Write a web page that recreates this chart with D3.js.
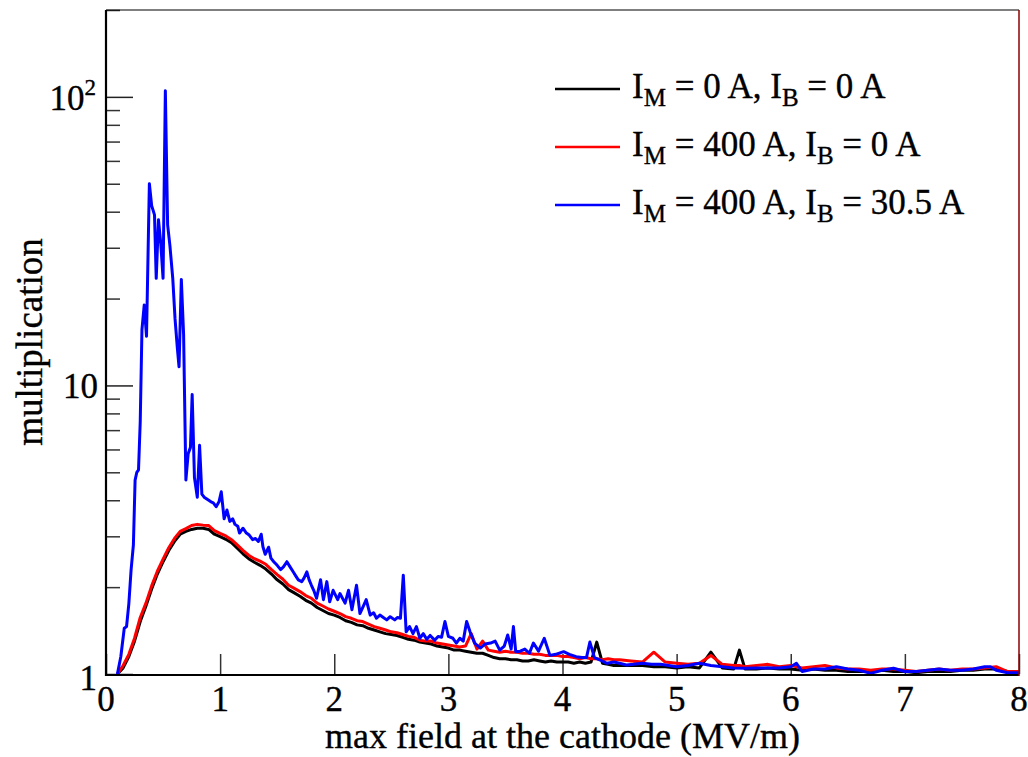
<!DOCTYPE html>
<html>
<head>
<meta charset="utf-8">
<script src="https://cdn.jsdelivr.net/npm/d3@7"></script>
<style>
  body { margin: 0; background: #fff; }
  text { font-family: "Liberation Serif", "Times New Roman", serif; fill: #000; stroke: #000; stroke-width: 0.35; }
</style>
</head>
<body>
<div id="chart"></div>
<script>
// x grid shared by the two smooth curves (MV/m)
const fieldX = [0.10,0.15,0.20,0.25,0.30,0.35,0.40,0.45,0.50,0.55,0.60,0.65,0.70,0.75,0.80,0.85,0.90,0.95,
  1.00,1.05,1.10,1.15,1.20,1.25,1.30,1.35,1.40,1.45,1.50,1.55,1.60,1.65,1.70,1.75,1.80,1.85,1.90,1.95,
  2.00,2.05,2.10,2.15,2.20,2.25,2.30,2.35,2.40,2.45,2.50,2.55,2.60,2.65,2.70,2.75,2.80,2.85,2.90,2.95,
  3.00,3.05,3.10,3.15,3.20,3.25,3.30,3.35,3.40,3.45,3.50,3.55,3.60,3.65,3.70,3.75,3.80,3.85,3.90,3.95,
  4.00,4.05,4.10,4.15,4.20,4.25,4.30,4.35,4.40,4.45,4.50,4.6,4.7,4.8,4.9,5.0,5.1,5.2,5.3,5.4,5.5,5.55,
  5.6,5.7,5.8,5.9,6.0,6.1,6.2,6.3,6.4,6.5,6.6,6.7,6.8,6.9,7.0,7.1,7.2,7.3,7.4,7.5,7.6,7.7,7.8,7.9,8.0];

// I_M = 0 A, I_B = 0 A
const multBlack = [1.00,1.05,1.15,1.30,1.52,1.72,1.97,2.22,2.45,2.68,2.88,3.05,3.12,3.17,3.20,3.20,3.17,3.05,
  2.99,2.93,2.85,2.73,2.61,2.51,2.44,2.38,2.31,2.22,2.12,2.05,1.96,1.91,1.86,1.80,1.76,1.70,1.66,1.62,
  1.60,1.57,1.53,1.51,1.48,1.47,1.44,1.42,1.40,1.38,1.37,1.36,1.34,1.32,1.31,1.29,1.28,1.27,1.25,1.24,
  1.23,1.21,1.21,1.20,1.19,1.18,1.18,1.16,1.14,1.13,1.13,1.12,1.12,1.11,1.11,1.12,1.11,1.10,1.11,1.10,
  1.10,1.10,1.09,1.10,1.09,1.10,1.29,1.09,1.08,1.07,1.07,1.07,1.07,1.06,1.06,1.05,1.06,1.05,1.19,1.05,1.04,1.21,
  1.04,1.04,1.05,1.04,1.04,1.03,1.04,1.03,1.03,1.02,1.02,1.02,1.03,1.02,1.02,1.01,1.02,1.02,1.02,1.03,1.03,1.04,1.04,1.02,1.02];

// I_M = 400 A, I_B = 0 A
const multRed = [1.00,1.07,1.17,1.33,1.57,1.76,2.02,2.27,2.50,2.74,2.95,3.12,3.19,3.27,3.30,3.28,3.27,3.14,
  3.07,3.01,2.92,2.80,2.68,2.58,2.51,2.46,2.40,2.30,2.21,2.13,2.03,1.98,1.93,1.87,1.83,1.76,1.72,1.68,
  1.65,1.62,1.58,1.56,1.53,1.52,1.49,1.46,1.44,1.42,1.40,1.39,1.37,1.35,1.34,1.31,1.30,1.30,1.28,1.27,
  1.26,1.25,1.24,1.25,1.38,1.22,1.30,1.21,1.20,1.19,1.20,1.19,1.19,1.18,1.18,1.17,1.17,1.16,1.16,1.16,
  1.15,1.15,1.14,1.13,1.14,1.13,1.13,1.12,1.13,1.12,1.12,1.11,1.10,1.19,1.10,1.09,1.08,1.09,1.16,1.08,1.07,1.07,
  1.06,1.07,1.08,1.06,1.07,1.05,1.06,1.07,1.05,1.04,1.04,1.03,1.04,1.04,1.03,1.02,1.03,1.04,1.03,1.04,1.04,1.05,1.06,1.02,1.02];

// I_M = 400 A, I_B = 30.5 A (own x grid, denser where it spikes)
const blueX = [0.10,0.13,0.16,0.18,0.20,0.22,0.24,0.255,0.27,0.285,0.30,0.315,0.335,0.355,0.38,0.40,0.425,0.44,
  0.46,0.48,0.50,0.52,0.54,0.56,0.585,0.605,0.625,0.64,0.66,0.68,0.70,0.72,0.74,0.755,0.775,0.80,0.82,0.84,
  0.86,0.88,0.90,0.92,0.94,0.965,0.99,1.01,1.035,1.06,1.085,1.11,1.13,1.155,1.17,1.20,1.23,1.255,1.285,1.31,
  1.335,1.36,1.375,1.395,1.425,1.445,1.47,1.50,1.53,1.555,1.585,1.61,1.64,1.665,1.685,1.715,1.735,1.76,1.78,
  1.80,1.82,1.845,1.88,1.905,1.935,1.96,1.99,2.03,2.05,2.095,2.125,2.155,2.195,2.225,2.255,2.28,2.315,2.345,
  2.37,2.40,2.43,2.46,2.49,2.53,2.555,2.58,2.605,2.63,2.66,2.69,2.72,2.75,2.78,2.81,2.84,2.88,2.91,2.94,2.97,
  3.00,3.04,3.07,3.10,3.13,3.16,3.19,3.23,3.28,3.32,3.37,3.41,3.45,3.49,3.52,3.55,3.57,3.59,3.63,3.67,3.71,
  3.745,3.79,3.84,3.89,3.94,4.01,4.06,4.12,4.17,4.21,4.24,4.28,4.33,4.39,4.45,4.50,4.56,4.62,4.70,4.78,4.86,
  4.93,5.00,5.1,5.2,5.3,5.4,5.5,5.6,5.7,5.8,5.9,6.0,6.05,6.1,6.2,6.3,6.4,6.5,6.6,6.7,6.8,6.9,7.0,7.1,7.2,
  7.3,7.4,7.5,7.6,7.7,7.75,7.8,7.9,8.0];
const multBlue = [1.00,1.15,1.44,1.46,1.75,2.30,2.80,4.7,5.0,5.1,7.5,15.6,19.0,14.8,50,42,39,23.5,
  37.5,31,23.5,105,36,30.5,23.5,17,13.5,11.6,23.3,15,4.7,5.8,6.1,9.3,4.8,4.1,6.2,4.2,
  4.1,4.05,4.0,3.95,3.92,3.80,3.95,4.28,3.45,3.70,3.38,3.45,3.30,3.25,3.08,3.20,3.08,3.03,2.92,2.95,
  2.88,3.05,2.76,2.60,2.75,2.52,2.45,2.38,2.30,2.35,2.45,2.36,2.26,2.18,2.12,2.09,2.15,2.26,2.12,
  2.03,1.95,1.83,2.12,1.81,2.09,1.78,1.95,1.81,1.90,1.76,1.95,1.67,2.03,1.62,1.72,1.81,1.60,1.63,
  1.56,1.60,1.57,1.54,1.58,1.54,1.57,1.56,2.20,1.40,1.46,1.38,1.46,1.33,1.38,1.32,1.36,1.31,1.35,1.34,1.52,
  1.35,1.33,1.28,1.33,1.30,1.52,1.40,1.28,1.23,1.27,1.28,1.30,1.21,1.25,1.365,1.22,1.46,1.195,1.20,1.22,1.18,
  1.28,1.20,1.33,1.16,1.17,1.195,1.17,1.148,1.14,1.14,1.29,1.14,1.118,1.089,1.10,1.09,1.075,1.08,1.09,1.08,1.08,
  1.07,1.06,1.07,1.089,1.07,1.06,1.05,1.047,1.05,1.05,1.05,1.06,1.089,1.02,1.04,1.04,1.06,1.04,1.03,1.005,1.03,1.047,1.02,1.02,1.03,
  1.04,1.03,1.03,1.04,1.06,1.06,1.03,1.01,1.01];

const xTicks = [0,1,2,3,4,5,6,7,8];
const yMajor = [1,10,100];
const yMinor = [2,3,4,5,6,7,8,9,20,30,40,50,60,70,80,90,200];

const series = [
  {name: "black", x: fieldX, y: multBlack, color: "#000000", label: ["0", "0"]},
  {name: "red", x: fieldX, y: multRed, color: "#ff0000", label: ["400", "0"]},
  {name: "blue", x: blueX, y: multBlue, color: "#0000ff", label: ["400", "30.5"]}
];

const W = 1028, H = 757;
const margin = {left: 106, top: 10, right: 9, bottom: 83};

const svg = d3.select("#chart").append("svg")
    .attr("width", W)
    .attr("height", H);

const x = d3.scaleLinear().domain([0, 8]).range([margin.left, W - margin.right]);
const y = d3.scaleLog().domain([1, 200]).range([H - margin.bottom, margin.top]);

const x0 = x(0), x1 = x(8), yb = y(1), yt = y(200);

// ticks (inside the frame)
svg.append("g")
    .attr("transform", `translate(${x0},0)`)
    .call(d3.axisRight(y).tickValues(yMinor).tickSize(14).tickFormat(""))
    .call(g => g.select(".domain").remove())
    .selectAll("line").attr("stroke", "#333").attr("stroke-width", 1.5);

svg.append("g")
    .attr("transform", `translate(${x0},0)`)
    .call(d3.axisRight(y).tickValues(yMajor).tickSize(27).tickFormat(""))
    .call(g => g.select(".domain").remove())
    .selectAll("line").attr("stroke", "#222").attr("stroke-width", 1.5);

svg.append("g")
    .attr("transform", `translate(0,${yb})`)
    .call(d3.axisTop(x).tickValues(xTicks).tickSize(20).tickFormat(""))
    .call(g => g.select(".domain").remove())
    .selectAll("line").attr("stroke", "#333").attr("stroke-width", 1.5);

// curves
const line = d3.line()
    .x(d => x(d[0]))
    .y(d => y(d[1]));

series.forEach(s => {
  svg.append("path")
      .datum(s.x.map((v, i) => [v, s.y[i]]))
      .attr("class", "curve-" + s.name)
      .attr("fill", "none")
      .attr("stroke", s.color)
      .attr("stroke-width", 3)
      .attr("stroke-linejoin", "round")
      .attr("d", line);
});

// frame
svg.append("line").attr("x1", x0).attr("x2", x1).attr("y1", yb + 0.5).attr("y2", yb + 0.5)
    .attr("stroke", "#ff8080").attr("stroke-width", 1);
svg.append("line").attr("x1", x0).attr("x2", x1).attr("y1", yb + 1).attr("y2", yb + 1)
    .attr("stroke", "#000").attr("stroke-width", 2);
svg.append("line").attr("x1", x0).attr("x2", x1).attr("y1", yt).attr("y2", yt)
    .attr("stroke", "#000").attr("stroke-width", 1.2);
svg.append("line").attr("x1", x0).attr("x2", x0).attr("y1", yt).attr("y2", yb + 2)
    .attr("stroke", "#000").attr("stroke-width", 2.2);
svg.append("line").attr("x1", x1).attr("x2", x1).attr("y1", yt).attr("y2", yb + 2)
    .attr("stroke", "#8b0000").attr("stroke-width", 1.5);

// tick labels
svg.append("g").selectAll("text")
    .data(xTicks)
    .join("text")
    .attr("x", d => x(d))
    .attr("y", 711)
    .attr("text-anchor", "middle")
    .attr("font-size", 35)
    .text(d => d);

const yLab = svg.append("g");
yLab.append("text").attr("x", 97).attr("y", yb + 16).attr("text-anchor", "end")
    .attr("font-size", 35).text("1");
yLab.append("text").attr("x", 98).attr("y", y(10) + 13).attr("text-anchor", "end")
    .attr("font-size", 35).text("10");
const t100 = yLab.append("text").attr("x", 96).attr("y", y(100) + 13).attr("text-anchor", "end")
    .attr("font-size", 35);
t100.append("tspan").text("10");
t100.append("tspan").attr("font-size", 23).attr("dy", -15).text("2");

// axis titles
svg.append("text")
    .attr("x", (x0 + x1) / 2)
    .attr("y", 748)
    .attr("text-anchor", "middle")
    .attr("font-size", 36)
    .text("max field at the cathode (MV/m)");

svg.append("text")
    .attr("transform", `translate(42,${(yt + yb) / 2}) rotate(-90)`)
    .attr("text-anchor", "middle")
    .attr("font-size", 37)
    .text("multiplication");

// legend
const legend = svg.append("g").attr("class", "legend");
const rowY = [89, 147, 205];
series.forEach((s, i) => {
  legend.append("line")
      .attr("x1", 555).attr("x2", 620)
      .attr("y1", rowY[i]).attr("y2", rowY[i])
      .attr("stroke", s.color).attr("stroke-width", 2.5);
  const t = legend.append("text")
      .attr("x", 632)
      .attr("y", rowY[i] + 9)
      .attr("font-size", 35);
  t.append("tspan").text("I");
  t.append("tspan").attr("font-size", 25).attr("dy", 8).text("M");
  t.append("tspan").attr("dy", -8).text(` = ${s.label[0]} A, I`);
  t.append("tspan").attr("font-size", 25).attr("dy", 8).text("B");
  t.append("tspan").attr("dy", -8).text(` = ${s.label[1]} A`);
});
</script>
</body>
</html>
